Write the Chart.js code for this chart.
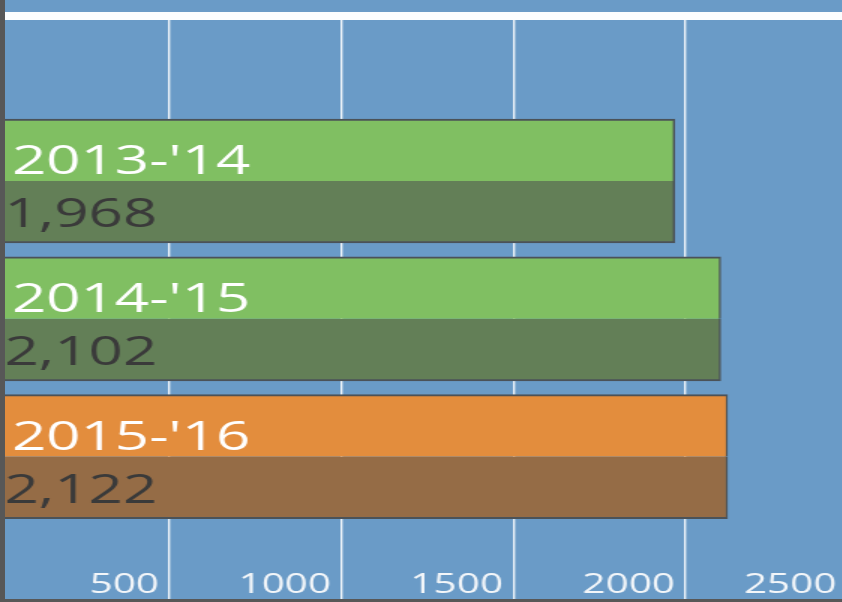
<!DOCTYPE html>
<html>
<head>
<meta charset="utf-8">
<script src="https://cdn.jsdelivr.net/npm/chart.js@4.4.1/dist/chart.umd.min.js"></script>
<style>
  html, body { margin: 0; padding: 0; width: 842px; height: 602px; overflow: hidden; background: #575757; }
  #fondo { position: absolute; left: 0; top: 0; width: 842px; height: 599px; background: #6a9bc7; }
  #raya { position: absolute; left: 0; top: 12px; width: 842px; height: 8px; background: #fbfdfe; }
  #borde { position: absolute; left: 0; top: 0; width: 5px; height: 602px; background: #575757; z-index: 3; }
  /* la imagen original esta estirada a lo ancho */
  #caja { position: absolute; left: 0; top: 0; width: 574px; height: 602px; z-index: 2;
          transform: scaleX(1.5); transform-origin: 0 0; }
</style>
</head>
<body>
<div id="fondo"></div>
<div id="raya"></div>
<div id="caja"><canvas id="grafico" width="574" height="602"></canvas></div>
<div id="borde"></div>
<script>
// datos
const temporadas = ["2013-'14", "2014-'15", "2015-'16"];
const visitantes = [1968, 2102, 2122];
const posiciones = [0, 1, 2];
const ticksX = [500, 1000, 1500, 2000, 2500];
const colorArriba = ['#80bf62', '#80bf62', '#e38d3d'];
const colorAbajo = ['#637f57', '#637f57', '#956c46'];

const puntos = temporadas.map((t, i) => ({ x: visitantes[i], y: posiciones[i] }));

// textos dentro de las barras
const etiquetasBarras = {
    id: 'etiquetasBarras',
    afterDatasetsDraw(chart) {
        const ctx = chart.ctx;
        const arriba = chart.getDatasetMeta(0).data;
        const abajo = chart.getDatasetMeta(1).data;
        const izq = chart.chartArea.left;
        ctx.save();
        ctx.font = '500 40px "Open Sans"';
        ctx.textBaseline = 'alphabetic';
        ctx.textAlign = 'left';
        arriba.forEach((barra, i) => {
            ctx.fillStyle = '#ffffff';
            ctx.fillText(temporadas[i], izq + 8, barra.y + 24);
            ctx.fillStyle = '#3a3a3a';
            ctx.fillText(visitantes[i].toLocaleString('en-US'), izq + 3, abajo[i].y + 15);
        });
        ctx.restore();
    }
};

const ctx = document.getElementById('grafico').getContext('2d');
new Chart(ctx, {
    type: 'bar',
    data: {
        datasets: [
            {
                data: puntos,
                backgroundColor: colorArriba,
                borderColor: '#4b5258',
                borderWidth: { top: 2, right: 1.4, bottom: 0, left: 0 },
                borderSkipped: false
            },
            {
                data: puntos,
                backgroundColor: colorAbajo,
                borderColor: '#4b5258',
                borderWidth: { top: 0, right: 1.4, bottom: 2, left: 0 },
                borderSkipped: false
            }
        ]
    },
    options: {
        indexAxis: 'y',
        responsive: false,
        animation: false,
        devicePixelRatio: 1,
        barThickness: 62,
        layout: { padding: { top: 20, bottom: 3, left: 0, right: 2.33 } },
        plugins: { legend: { display: false }, tooltip: { enabled: false } },
        scales: {
            y: {
                type: 'linear',
                reverse: true,
                offset: false,
                min: -1.169,
                max: 3.034,
                display: false,
                afterBuildTicks: s => { s.ticks = posiciones.map(v => ({ value: v })); }
            },
            x: {
                type: 'linear',
                min: 7,
                max: 2500,
                border: { display: false },
                grid: { color: 'rgba(255,255,255,0.92)', lineWidth: 1.35, drawTicks: false },
                afterBuildTicks: s => { s.ticks = ticksX.map(v => ({ value: v })); },
                ticks: {
                    align: 'end',
                    padding: -27,
                    color: '#f3f6f9',
                    font: { family: 'Open Sans', size: 27, lineHeight: 1 },
                    callback: v => v === 2500 ? v + '  ' : v + ' '
                }
            }
        }
    },
    plugins: [etiquetasBarras]
});
</script>
</body>
</html>
